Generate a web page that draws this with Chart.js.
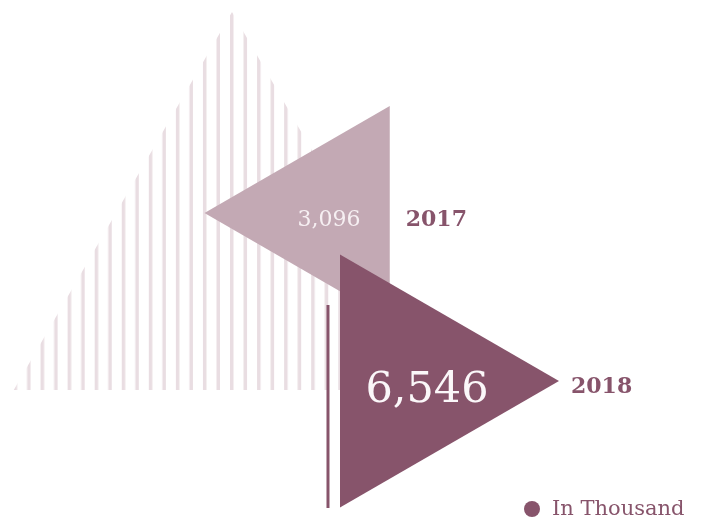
<!DOCTYPE html><html lang="en">
<head>
<meta charset="UTF-8">
<title>In Thousand</title>
<script src="https://cdn.jsdelivr.net/npm/chart.js"></script>
<style>
  body { margin: 0; background: #fff; }
  #wrap { width: 704px; height: 518px; position: relative; overflow: hidden; }
  #legend {
    position: absolute; left: 524px; top: 496px;
    font-family: "DejaVu Serif", serif; font-size: 21px; line-height: 24px;
    color: #87546b; white-space: nowrap;
  }
  #legend .dot {
    display: inline-block; width: 16px; height: 16px; border-radius: 50%;
    background: #87546b; margin-right: 12px; vertical-align: -2px;
  }
</style>
</head>
<body>
<div id="wrap">
  <canvas id="chart"></canvas>
  <div id="legend"><span class="dot"></span><span id="unit"></span></div>
</div>
<script>
// data
const years = ['2017', '2018'];
const values = [3096, 6546];
const unitLabel = 'In Thousand';

// styles
const dark = '#87546b';
const light = '#c3a9b4';
const stripe = '#e9dde2';
const triRadius = [123.5, 146];
const triRotation = [-90, 90];
const triFill = [light, dark];
const valueFont = [22, 43];
const valueColor = ['#f6eff2', '#fbf7f9'];
const valueShift = [[1, 13], [14, 21]];
const yearShift = [[16, 13], [12, 12]];

// decorative pieces (in scale units)
const stripePos = { x: -800, y: 0.304, r: 252 };
const linePos = [0.548, 1.756];

function stripePattern() {
    const c = document.createElement('canvas');
    c.width = 27; c.height = 8;
    const g = c.getContext('2d');
    g.fillStyle = stripe;
    g.fillRect(0, 0, 3.5, 8);
    g.fillRect(13.5, 0, 3.5, 8);
    const p = g.createPattern(c, 'repeat');
    p.setTransform(new DOMMatrix().translate(13.5, 0).scale(1.0022, 1));
    return p;
}

const datasets = [];
years.forEach((yr, i) => {
    datasets.push({
        label: yr,
        data: [{ x: values[i], y: i }],
        pointStyle: 'triangle',
        rotation: triRotation[i],
        pointRadius: triRadius[i],
        pointHoverRadius: triRadius[i],
        pointBackgroundColor: triFill[i],
        pointBorderWidth: 0,
        clip: false,
        order: i === 0 ? 2 : 0
    });
});
datasets.push({
    label: 'marker',
    showLine: true,
    data: [{ x: values[0], y: linePos[0] }, { x: values[0], y: linePos[1] }],
    borderColor: dark,
    borderWidth: 3,
    pointRadius: 0,
    clip: false,
    order: 1
});
datasets.push({
    label: 'stripes',
    data: [{ x: stripePos.x, y: stripePos.y }],
    pointStyle: 'triangle',
    rotation: 0,
    pointRadius: stripePos.r,
    pointHoverRadius: stripePos.r,
    pointBackgroundColor: stripePattern(),
    pointBorderWidth: 0,
    clip: false,
    order: 3
});

const triLabels = {
    id: 'triLabels',
    afterDatasetsDraw(chart) {
        const ctx = chart.ctx;
        ctx.save();
        years.forEach((yr, i) => {
            const el = chart.getDatasetMeta(i).data[0];
            const r = triRadius[i];
            ctx.textBaseline = 'alphabetic';
            ctx.textAlign = 'center';
            ctx.fillStyle = valueColor[i];
            ctx.font = valueFont[i] + 'px "DejaVu Serif"';
            ctx.fillText(values[i].toLocaleString('en-US'), el.x + valueShift[i][0], el.y + valueShift[i][1]);
            const rightEdge = triRotation[i] < 0 ? el.x + r / 2 : el.x + r;
            ctx.textAlign = 'left';
            ctx.fillStyle = dark;
            ctx.font = 'bold 22px "DejaVu Serif"';
            ctx.fillText(yr, rightEdge + yearShift[i][0], el.y + yearShift[i][1]);
        });
        ctx.restore();
    }
};

document.getElementById('unit').textContent = unitLabel;

new Chart(document.getElementById('chart'), {
    type: 'scatter',
    data: { datasets: datasets },
    options: {
        responsive: true,
        maintainAspectRatio: false,
        animation: false,
        events: [],
        layout: { padding: 0, autoPadding: false },
        scales: {
            x: { type: 'linear', display: false, min: -10217, max: 18358 },
            y: { type: 'linear', display: false, reverse: true, min: -1.268, max: 1.8155 }
        },
        plugins: {
            tooltip: { enabled: false },
            legend: { display: false }
        }
    },
    plugins: [triLabels]
});
</script>
</body>
</html>
